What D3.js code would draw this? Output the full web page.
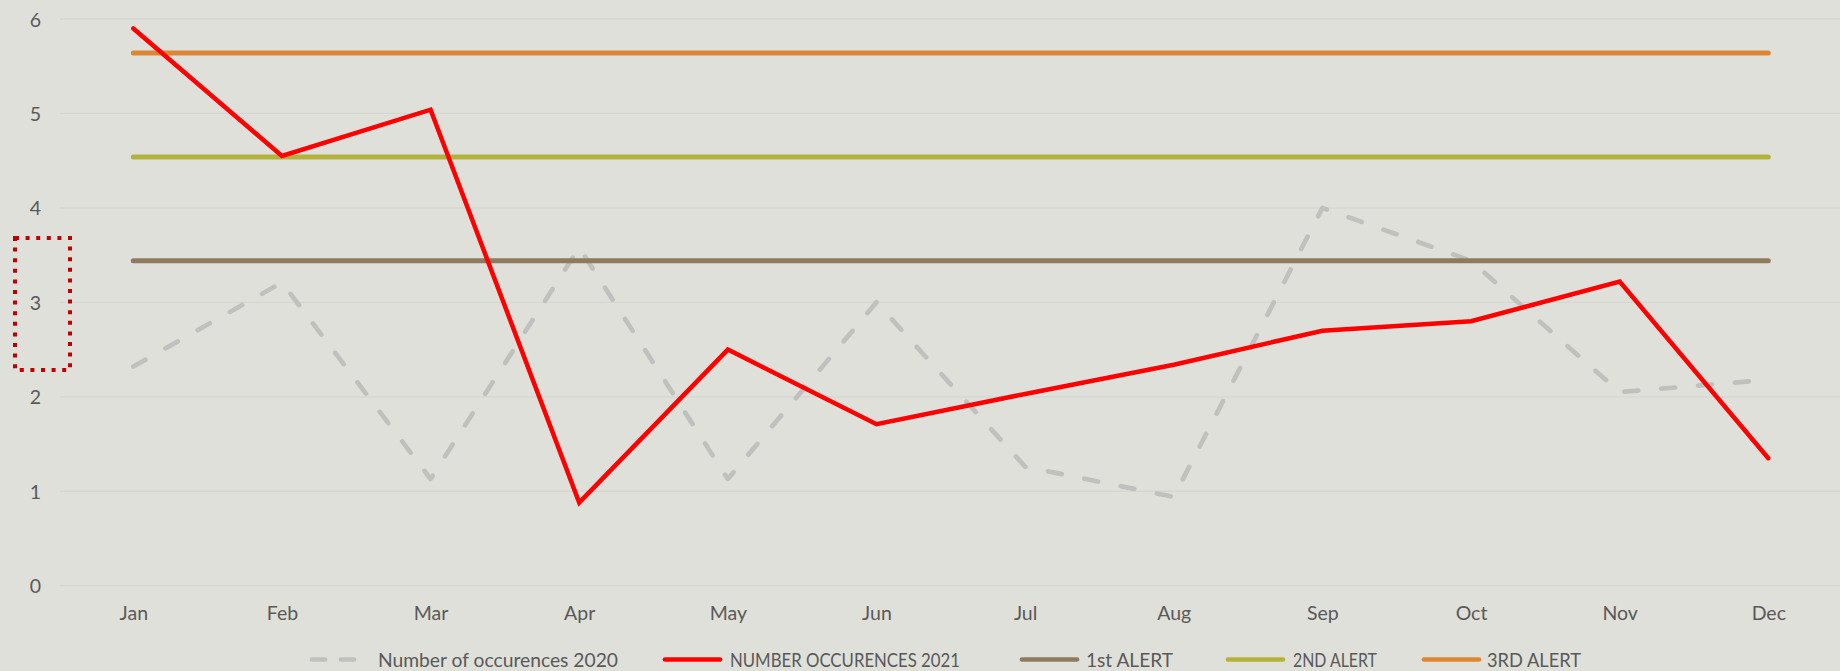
<!DOCTYPE html>
<html>
<head>
<meta charset="utf-8">
<script src="https://cdn.jsdelivr.net/npm/d3@7"></script>
<style>
  html, body { margin: 0; padding: 0; background: #E0E0DA; }
  svg { display: block; }
  text { font-family: Lato, "Open Sans", sans-serif; fill: #595959; }
</style>
</head>
<body>
<svg id="chart" width="1840" height="671"></svg>
<script>
const months = ["Jan","Feb","Mar","Apr","May","Jun","Jul","Aug","Sep","Oct","Nov","Dec"];
const yTicks = [0,1,2,3,4,5,6];
const occ2020 = [2.32, 3.21, 1.13, 3.58, 1.13, 3.0, 1.26, 0.94, 4.0, 3.44, 2.05, 2.18];
const occ2021 = [5.9, 4.55, 5.04, 0.88, 2.5, 1.71, 2.03, 2.34, 2.7, 2.8, 3.22, 1.35];
const alert1 = [3.44,3.44,3.44,3.44,3.44,3.44,3.44,3.44,3.44,3.44,3.44,3.44];
const alert2 = [4.54,4.54,4.54,4.54,4.54,4.54,4.54,4.54,4.54,4.54,4.54,4.54];
const alert3 = [5.64,5.64,5.64,5.64,5.64,5.64,5.64,5.64,5.64,5.64,5.64,5.64];
const seriesNames = ["Number of occurences 2020","NUMBER OCCURENCES 2021","1st ALERT","2ND ALERT","3RD ALERT"];

const svg = d3.select("#chart");
const W = 1840, H = 671;
svg.append("rect").attr("width", W).attr("height", H).attr("fill", "#E0E0DA");

const x = d3.scalePoint().domain(months).range([133.3, 1768.3]);
const y = d3.scaleLinear().domain([0, 6]).range([585.7, 19]);

// gridlines
svg.append("g").selectAll("line").data(yTicks).join("line")
  .attr("x1", 60).attr("x2", 1840)
  .attr("y1", d => y(d)).attr("y2", d => y(d))
  .attr("stroke", "#D6D6D2").attr("stroke-width", 1.3);

// y axis labels
const yAxis = d3.axisLeft(y).tickValues(yTicks).tickFormat(d3.format("d")).tickSize(0).tickPadding(0);
const gy = svg.append("g").attr("transform", "translate(41,0)").call(yAxis);
gy.select(".domain").remove();
gy.selectAll("text").attr("font-size", 19.5).attr("fill", "#595959")
  .attr("font-family", "Lato, 'Open Sans', sans-serif").attr("dy", "0.36em");

// x axis labels
const xAxis = d3.axisBottom(x).tickSize(0).tickPadding(0);
const gx = svg.append("g").attr("transform", "translate(0,606)").call(xAxis);
gx.select(".domain").remove();
gx.selectAll("text").attr("font-size", 19.5).attr("fill", "#595959")
  .attr("font-family", "Lato, 'Open Sans', sans-serif").attr("dy", "0.72em");

const line = d3.line().x((d, i) => x(months[i])).y(d => y(d));

const styles = [
  {data: occ2020, color: "#C0C0BE", width: 4.7, dash: "14 23"},
  {data: alert1, color: "#8F7A5E", width: 5, dash: null},
  {data: alert2, color: "#B3B33B", width: 5, dash: null},
  {data: alert3, color: "#DD8634", width: 5, dash: null},
  {data: occ2021, color: "#FF0000", width: 4.5, dash: null}
];
styles.forEach(s => {
  svg.append("path").datum(s.data)
    .attr("d", line)
    .attr("fill", "none")
    .attr("stroke", s.color)
    .attr("stroke-width", s.width)
    .attr("stroke-linecap", "round")
    .attr("stroke-linejoin", s.data === occ2021 ? "miter" : "round")
    .attr("stroke-dasharray", s.dash);
});

// red dotted rectangle annotation
svg.append("rect")
  .attr("x", 15).attr("y", 238).attr("width", 55).attr("height", 132)
  .attr("fill", "none").attr("stroke", "#C00000").attr("stroke-width", 4)
  .attr("stroke-dasharray", "4 6.6");

// legend
const legendItems = [
  {name: seriesNames[0], color: "#C0C0BE", dash: "13 16", sx: 312, tx: 378, tw: 240},
  {name: seriesNames[1], color: "#FF0000", dash: null, sx: 665, tx: 730, tw: 230},
  {name: seriesNames[2], color: "#8F7A5E", dash: null, sx: 1022, tx: 1086, tw: 87},
  {name: seriesNames[3], color: "#B3B33B", dash: null, sx: 1228, tx: 1293, tw: 84},
  {name: seriesNames[4], color: "#DD8634", dash: null, sx: 1424, tx: 1487, tw: 94}
];
const lg = svg.append("g");
legendItems.forEach(it => {
  lg.append("line")
    .attr("x1", it.sx).attr("x2", it.sx + 55)
    .attr("y1", 659.5).attr("y2", 659.5)
    .attr("stroke", it.color).attr("stroke-width", 4.7)
    .attr("stroke-linecap", "round")
    .attr("stroke-dasharray", it.dash);
  lg.append("text")
    .attr("x", it.tx).attr("y", 666.5)
    .attr("font-size", 19.5)
    .attr("textLength", it.tw).attr("lengthAdjust", "spacingAndGlyphs")
    .text(it.name);
});
</script>
</body>
</html>
